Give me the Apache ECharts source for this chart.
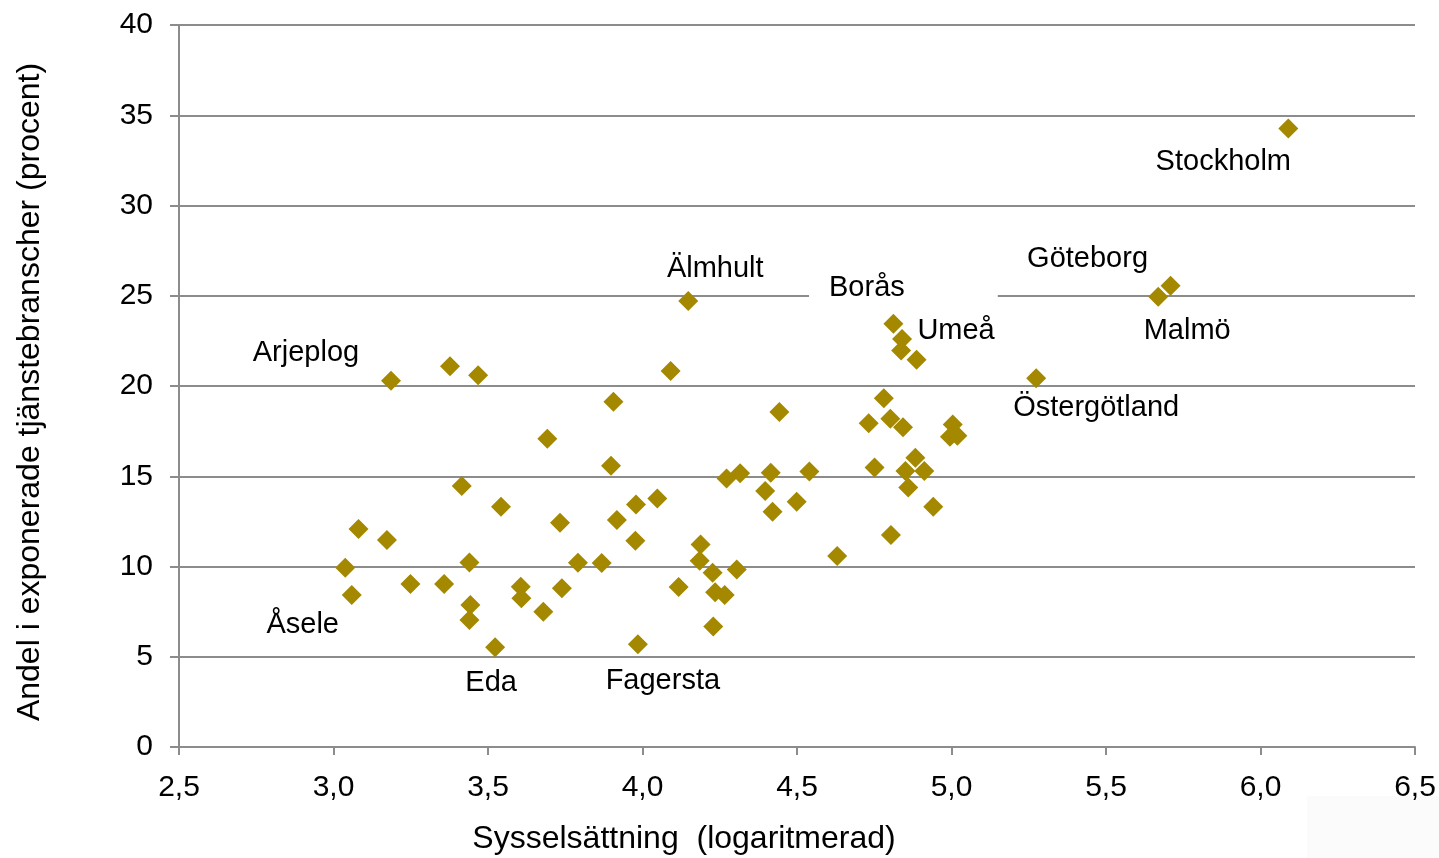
<!DOCTYPE html>
<html><head><meta charset="utf-8">
<script src="https://cdn.jsdelivr.net/npm/echarts@6/dist/echarts.min.js"></script>
<style>html,body{margin:0;padding:0;background:#fff}#c{width:1439px;height:858px}</style>
</head><body><div id="c"></div>
<script>
// Sysselsättning (logaritmerad)
const xValues = [3.186,3.377,3.468,3.415,3.542,3.081,3.173,3.038,3.440,3.249,3.358,3.059,3.443,3.440,3.523,3.606,3.608,
  4.091,3.906,3.692,4.443,3.898,4.272,4.316,4.415,4.540,4.397,4.048,3.979,4.499,4.421,3.917,3.733,3.977,4.188,4.185,
  3.791,3.868,4.227,4.305,4.117,3.739,4.235,4.266,3.679,4.229,3.985,4.630,
  4.812,4.840,4.837,4.887,5.274,4.781,4.732,4.802,4.843,5.004,4.995,5.019,4.751,4.883,4.851,4.912,4.860,4.941,4.804,
  6.090,5.709,5.669,4.148];
// Andel i exponerade tjänstebranscher (procent)
const yValues = [20.29,21.10,20.60,14.46,13.31,12.08,11.47,9.93,10.22,9.03,9.03,8.42,7.87,7.04,5.52,8.88,8.24,
  20.83,19.13,17.08,18.56,15.58,14.87,15.16,15.20,15.27,14.18,13.77,13.44,13.59,13.04,12.58,12.43,11.43,11.22,10.32,
  10.21,10.19,9.66,9.83,8.86,8.79,8.57,8.42,7.50,6.67,5.69,10.58,
  23.45,22.60,21.96,21.46,20.43,19.32,17.93,18.19,17.71,17.87,17.19,17.25,15.49,16.03,15.29,15.29,14.38,13.31,11.75,
  34.26,25.56,24.95,24.71];
const pointNames = ['Arjeplog','','','','','','','','','','','Åsele','','','Eda','','',
  '','','','','','','','','','','','','','','','','','','',
  '','','','','','','','','','','Fagersta','',
  'Borås','Umeå','','','Östergötland','','','','','','','','','','','','','','',
  'Stockholm','Göteborg','Malmö','Älmhult'];
const xAxisTitle = 'Sysselsättning  (logaritmerad)';
const yAxisTitle = 'Andel i exponerade tjänstebranscher (procent)';

// label placement (styling, in pixels relative to the marker)
const labelStyle = {
  'Arjeplog': {offset: [-85, -28]},
  'Åsele': {offset: [-49, 30]},
  'Eda': {offset: [-4, 36]},
  'Fagersta': {offset: [25, 37]},
  'Älmhult': {offset: [27, -32]},
  'Borås': {offset: [10, -36], backgroundColor: '#fff', padding: [2, 93, 2, 20]},
  'Umeå': {offset: [54, -8]},
  'Östergötland': {offset: [60, 30]},
  'Göteborg': {offset: [-83, -27]},
  'Malmö': {offset: [29, 34]},
  'Stockholm': {offset: [-65, 33]}
};

const FONT = "'Liberation Sans', Arial, sans-serif";
const data = xValues.map((x, i) => {
  const n = pointNames[i];
  const item = {value: [x, yValues[i]], name: n};
  if (n) {
    const s = labelStyle[n] || {};
    item.label = Object.assign({show: true, formatter: n, position: 'inside', align: 'center',
      verticalAlign: 'middle', color: '#000', fontSize: 29, fontFamily: FONT, opacity: 1}, s);
  }
  return item;
});

const chart = echarts.init(document.getElementById('c'), null, {renderer: 'canvas'});
const fmt = v => v.toFixed(1).replace('.', ',');
chart.setOption({
  backgroundColor: '#fff',
  animation: false,
  grid: {left: 179, right: 24, top: 25, bottom: 111, containLabel: false},
  xAxis: {
    type: 'value', min: 2.5, max: 6.5, interval: 0.5,
    axisLine: {show: true, onZero: false, lineStyle: {color: '#8c8c8c', width: 2}},
    axisTick: {show: true, length: 8, lineStyle: {color: '#8c8c8c', width: 2}},
    splitLine: {show: false},
    axisLabel: {formatter: fmt, color: '#000', fontSize: 30, fontFamily: FONT, margin: 26}
  },
  yAxis: {
    type: 'value', min: 0, max: 40, interval: 5,
    axisLine: {show: true, lineStyle: {color: '#8c8c8c', width: 2}},
    axisTick: {show: true, length: 9, lineStyle: {color: '#8c8c8c', width: 2}},
    splitLine: {show: true, lineStyle: {color: '#8c8c8c', width: 2}},
    axisLabel: {color: '#000', fontSize: 30, fontFamily: FONT, margin: 26}
  },
  graphic: [
    {type: 'rect', left: 1307, top: 796, shape: {width: 132, height: 62}, style: {fill: '#fbfbfb'}, z: -1},
    {type: 'text', x: 684, y: 839, style: {text: xAxisTitle, font: '32px ' + FONT, fill: '#000',
      textAlign: 'center', textVerticalAlign: 'middle'}},
    {type: 'text', x: 30, y: 392, rotation: Math.PI / 2, style: {text: yAxisTitle, font: '32px ' + FONT, fill: '#000',
      textAlign: 'center', textVerticalAlign: 'middle'}}
  ],
  series: [{
    type: 'scatter', symbol: 'diamond', symbolSize: 20,
    itemStyle: {color: '#A38800', opacity: 1},
    label: {show: false},
    emphasis: {disabled: true},
    data: data
  }]
});
</script></body></html>
